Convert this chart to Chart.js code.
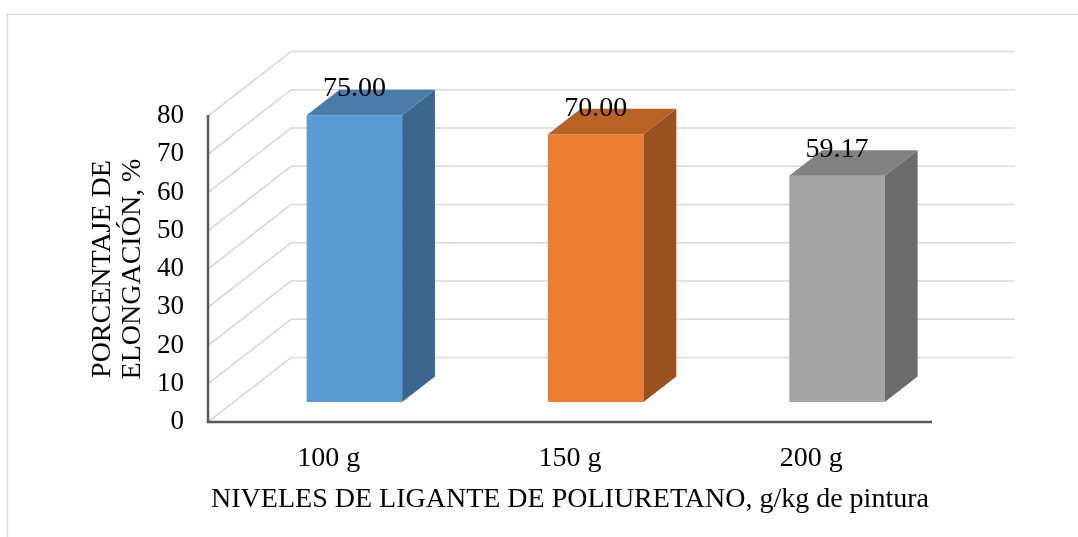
<!DOCTYPE html>
<html><head><meta charset="utf-8">
<script src="https://cdn.jsdelivr.net/npm/chart.js@4.4.1/dist/chart.umd.min.js"></script>
<style>html,body{margin:0;padding:0;background:#fff;overflow:hidden;} #wrap{width:1078px;height:537px;position:relative;}</style>
</head><body><div id="wrap"><canvas id="c" width="1078" height="537"></canvas></div>
<script>
const categories = ['100 g', '150 g', '200 g'];
const values = [75.00, 70.00, 59.17];
const valueLabels = ['75.00', '70.00', '59.17'];
const yTicks = [0, 10, 20, 30, 40, 50, 60, 70, 80];
const frontColors = ['#5B9BD5', '#ED7D31', '#A5A5A5'];
const topColors = ['#497CAA', '#B96226', '#818181'];
const sideColors = ['#3C668D', '#9A5120', '#6B6B6B'];
const yTitle = ['PORCENTAJE DE', 'ELONGACIÓN, %'];
const xTitle = 'NIVELES DE LIGANTE DE POLIURETANO, g/kg de pintura';

const FONT = 'Liberation Serif, Times New Roman, serif';
const DEPTH_X = 83, DEPTH_Y = -64.5;   // full depth of the 3D box
const BAR_F0 = 0.31, BAR_FD = 0.395;  // bar front depth, bar depth

const outerBorder = {
  id: 'outerBorder',
  beforeDraw(chart) {
    const ctx = chart.ctx;
    ctx.save();
    ctx.strokeStyle = '#D9D9D9';
    ctx.lineWidth = 1.5;
    ctx.strokeRect(7.5, 14.5, 2000, 2000);
    ctx.restore();
  }
};

const walls3d = {
  id: 'walls3d',
  beforeDatasetsDraw(chart) {
    const ctx = chart.ctx, y = chart.scales.y, a = chart.chartArea;
    ctx.save();
    ctx.strokeStyle = '#D9D9D9';
    ctx.lineWidth = 1.6;
    yTicks.forEach(v => {
      const py = y.getPixelForValue(v);
      ctx.beginPath();
      ctx.moveTo(a.left, py);
      ctx.lineTo(a.left + DEPTH_X, py + DEPTH_Y);
      ctx.lineTo(a.right + DEPTH_X, py + DEPTH_Y);
      ctx.stroke();
    });
    // front axes
    ctx.strokeStyle = '#595959';
    ctx.lineWidth = 2.5;
    ctx.beginPath();
    ctx.moveTo(a.left, y.getPixelForValue(yTicks[yTicks.length - 1]) - 1);
    ctx.lineTo(a.left, a.bottom);
    ctx.lineTo(a.right, a.bottom);
    ctx.stroke();
    ctx.restore();
    // shift into depth for the bars
    ctx.save();
    ctx.translate(DEPTH_X * BAR_F0, DEPTH_Y * BAR_F0);
  },
  afterDatasetsDraw(chart) {
    const ctx = chart.ctx;
    const meta = chart.getDatasetMeta(0);
    const bdx = DEPTH_X * BAR_FD, bdy = DEPTH_Y * BAR_FD;
    meta.data.forEach((bar, i) => {
      const p = bar.getProps(['x', 'y', 'base', 'width'], true);
      const l = p.x - p.width / 2, r = p.x + p.width / 2;
      ctx.fillStyle = sideColors[i];
      ctx.beginPath();
      ctx.moveTo(r, p.y); ctx.lineTo(r + bdx, p.y + bdy);
      ctx.lineTo(r + bdx, p.base + bdy); ctx.lineTo(r, p.base);
      ctx.closePath(); ctx.fill();
      ctx.fillStyle = topColors[i];
      ctx.beginPath();
      ctx.moveTo(l, p.y); ctx.lineTo(l + bdx, p.y + bdy);
      ctx.lineTo(r + bdx, p.y + bdy); ctx.lineTo(r, p.y);
      ctx.closePath(); ctx.fill();
    });
    ctx.fillStyle = '#000';
    ctx.font = '28px ' + FONT;
    ctx.textAlign = 'center';
    ctx.textBaseline = 'middle';
    meta.data.forEach((bar, i) => {
      const p = bar.getProps(['x', 'y'], true);
      ctx.fillText(valueLabels[i], p.x, p.y - 26);
    });
    ctx.restore();
  }
};

new Chart(document.getElementById('c'), {
  type: 'bar',
  data: {
    labels: categories,
    datasets: [{
      data: values,
      backgroundColor: frontColors,
      borderWidth: 0,
      barPercentage: 1,
      categoryPercentage: 0.396
    }]
  },
  options: {
    responsive: false,
    animation: false,
    devicePixelRatio: 1,
    layout: { padding: { top: 116, right: 146, left: 0, bottom: 0 } },
    plugins: { legend: { display: false }, tooltip: { enabled: false } },
    scales: {
      x: {
        grid: { display: false, drawTicks: false },
        border: { display: false },
        ticks: { color: '#000', font: { family: FONT, size: 28 }, padding: 20 },
        title: { display: true, text: xTitle, color: '#000', font: { family: FONT, size: 28, lineHeight: 1.15 }, padding: { top: 0, bottom: 21 } },
        afterFit(s) { s.height = 115; }
      },
      y: {
        min: 0, max: 80,
        afterBuildTicks(s) { s.ticks = yTicks.map(v => ({ value: v })); },
        grid: { display: false, drawTicks: false },
        border: { display: false },
        ticks: { color: '#000', font: { family: FONT, size: 27 }, padding: 24 },
        title: { display: true, text: yTitle, color: '#000', font: { family: FONT, size: 28, lineHeight: 1.09 }, padding: { top: 87, bottom: 0 } },
        afterFit(s) { s.width = 208; }
      }
    }
  },
  plugins: [outerBorder, walls3d]
});
</script>
</body></html>
